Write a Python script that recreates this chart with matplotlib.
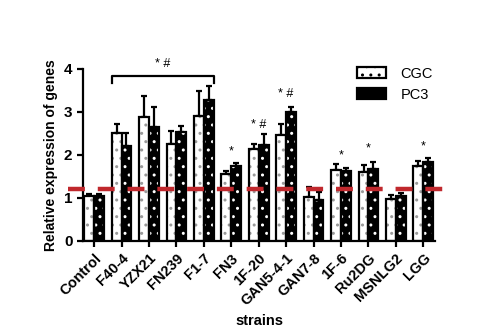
import numpy as np
import matplotlib
matplotlib.use("Agg")
import matplotlib.pyplot as plt
from matplotlib.patches import Patch

plt.rcParams['font.family'] = ['Liberation Sans', 'DejaVu Sans']
plt.rcParams['font.weight'] = 'bold'

strains = ["Control", "F40-4", "YZX21", "FN239", "F1-7", "FN3", "1F-20",
           "GAN5-4-1", "GAN7-8", "1F-6", "Ru2DG", "MSNLG2", "LGG"]
cgc_mean = [1.05, 2.50, 2.89, 2.25, 2.91, 1.55, 2.13, 2.45, 1.01, 1.65, 1.59, 0.97, 1.74]
cgc_err = [0.03, 0.22, 0.49, 0.31, 0.58, 0.07, 0.12, 0.26, 0.25, 0.13, 0.17, 0.10, 0.12]
pc3_mean = [1.05, 2.21, 2.64, 2.53, 3.27, 1.75, 2.22, 2.99, 0.95, 1.62, 1.66, 1.03, 1.84]
pc3_err = [0.03, 0.29, 0.48, 0.14, 0.32, 0.07, 0.26, 0.13, 0.19, 0.08, 0.17, 0.07, 0.08]
cutoff = 1.2

# significance marks above single strains: (index, text, y)
marks = [(5, "*", 1.95), (6, "* #", 2.55), (7, "* #", 3.28),
         (9, "*", 1.84), (10, "*", 2.02), (12, "*", 2.05)]

fig = plt.figure(figsize=(4.99, 3.28), dpi=100)
ax = fig.add_axes([0.166, 0.266, 0.706, 0.524])

x = np.arange(len(strains))
w = 0.36

# CGC: white bars with faint dotted fill
ax.bar(x - w / 2, cgc_mean, w, color="white", edgecolor="#9a9a9a",
       hatch="..", linewidth=0, zorder=2)
ax.bar(x - w / 2, cgc_mean, w, fill=False, edgecolor="black",
       linewidth=1.6, zorder=3)
# PC3: black bars with white squares
ax.bar(x + w / 2, pc3_mean, w, color="black", edgecolor="white",
       hatch="..", linewidth=0, zorder=2)
ax.bar(x + w / 2, pc3_mean, w, fill=False, edgecolor="black",
       linewidth=1.6, zorder=3)

# upper error bars only
ax.errorbar(x - w / 2, cgc_mean, yerr=[np.zeros(len(x)), cgc_err], fmt="none",
            ecolor="black", elinewidth=1.6, capsize=2, capthick=1.6, zorder=1)
ax.errorbar(x + w / 2, pc3_mean, yerr=[np.zeros(len(x)), pc3_err], fmt="none",
            ecolor="black", elinewidth=1.6, capsize=2, capthick=1.6, zorder=1)

# red dashed threshold line
ax.plot([-0.95, 12.9], [cutoff, cutoff], color="#c0282d", linewidth=3.2,
        dashes=(3.8, 2.9), zorder=4, clip_on=False, solid_capstyle="butt")

for i, t, yv in marks:
    ax.text(x[i], yv, t, ha="center", va="bottom", fontsize=9, fontweight="normal")

# bracket over F40-4 .. F1-7
bx0, bx1 = x[1] - w, x[4] + w
ax.plot([bx0, bx0, bx1, bx1], [3.67, 3.84, 3.84, 3.67], color="black",
        linewidth=1.6, zorder=5)
ax.text((bx0 + bx1) / 2, 3.98, "* #", ha="center", va="bottom", fontsize=9,
        fontweight="normal", clip_on=False)

ax.set_xlim(-0.41, 12.43)
ax.set_ylim(0, 4)
ax.set_yticks([0, 1, 2, 3, 4])
ax.set_xticks(x)
ax.set_xticklabels(strains, rotation=45, ha="right", rotation_mode="anchor",
                   fontsize=10.5, fontweight="bold")
ax.tick_params(axis="both", width=1.6, length=4)
ax.tick_params(axis="y", labelsize=11)
for lab in ax.get_yticklabels():
    lab.set_fontweight("bold")
for s in ["top", "right"]:
    ax.spines[s].set_visible(False)
for s in ["left", "bottom"]:
    ax.spines[s].set_linewidth(1.6)

ax.set_ylabel("Relative expression of genes", fontsize=10, fontweight="bold",
              labelpad=4)
ax.set_xlabel("strains", fontsize=10.5, fontweight="bold", labelpad=4)

# legend
h1 = Patch(facecolor="white", edgecolor="black", hatch="..", linewidth=1.6)
h2 = Patch(facecolor="black", edgecolor="black", linewidth=1.6)
leg = ax.legend([h1, h2], ["CGC", "PC3"], loc="upper left",
                bbox_to_anchor=(0.74, 1.09), frameon=False,
                handlelength=2.0, handleheight=0.8, labelspacing=0.5,
                handletextpad=1.0, prop={"weight": "normal", "size": 10.5})

fig.savefig("out.png", dpi=100)
